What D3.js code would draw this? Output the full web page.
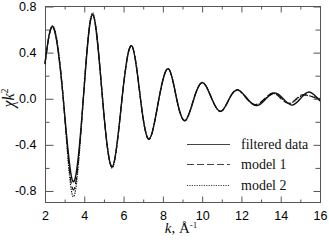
<!DOCTYPE html>
<html>
<head>
<meta charset="utf-8">
<script src="https://cdn.jsdelivr.net/npm/d3@7"></script>
<style>
  body { margin: 0; background: #fff; }
  .tick text { font-family: "Liberation Sans", Arial, sans-serif; font-size: 12.5px; fill: #000; }
  .axis path, .axis line { stroke: #555; }
  .legend text { font-family: "Liberation Serif", "Times New Roman", serif; font-size: 14px; fill: #111; }
</style>
</head>
<body>
<div id="chart"></div>
<script>
// k values and chi*k^2 for the three curves
const kFiltered = [2.0, 2.42, 2.93, 3.44, 3.95, 4.43, 4.93, 5.43, 5.92, 6.41, 6.86, 7.31, 7.8, 8.28, 8.7, 9.13, 9.58, 10.03, 10.49, 10.95, 11.38, 11.82, 12.3, 12.78, 13.25, 13.71, 14.13, 14.56, 15.0, 15.46, 16.0];
const chiFiltered = [0.31, 0.62, 0.0, -0.72, 0.0, 0.73, 0.0, -0.59, 0.0, 0.46, 0.0, -0.35, 0.0, 0.26, 0.0, -0.19, 0.0, 0.14, 0.0, -0.11, 0.0, 0.075, 0.0, -0.06, 0.0, 0.05, 0.0, -0.055, 0.0, 0.058, -0.02];

const kModel1 = [2.0, 2.42, 2.93, 3.44, 3.95, 4.43, 4.93, 5.43, 5.92, 6.41, 6.86, 7.31, 7.8, 8.28, 8.7, 9.13, 9.58, 10.03, 10.49, 10.95, 11.38, 11.8, 12.27, 12.72, 13.18, 13.62, 14.02, 14.42, 14.8, 15.2, 16.0];
const chiModel1 = [0.30, 0.62, 0.0, -0.79, 0.0, 0.73, 0.0, -0.59, 0.0, 0.46, 0.0, -0.35, 0.0, 0.26, 0.0, -0.19, 0.0, 0.14, 0.0, -0.11, 0.0, 0.08, 0.0, -0.05, 0.0, 0.05, 0.0, -0.04, 0.0, 0.035, -0.01];

const kModel2 = [2.0, 2.42, 2.93, 3.44, 3.95, 4.43, 4.93, 5.43, 5.92, 6.41, 6.86, 7.31, 7.8, 8.28, 8.7, 9.13, 9.58, 10.03, 10.49, 10.95, 11.38, 11.8, 12.28, 12.75, 13.2, 13.65, 14.05, 14.45, 14.85, 15.25, 16.0];
const chiModel2 = [0.30, 0.63, 0.0, -0.85, 0.0, 0.745, 0.0, -0.60, 0.0, 0.46, 0.0, -0.35, 0.0, 0.26, 0.0, -0.19, 0.0, 0.14, 0.0, -0.11, 0.0, 0.075, 0.0, -0.055, 0.0, 0.045, 0.0, -0.04, 0.0, 0.03, 0.0];

const xMajor = [2, 4, 6, 8, 10, 12, 14, 16];
const xMinor = [3, 5, 7, 9, 11, 13, 15];
const yMajor = [0.8, 0.4, 0.0, -0.4, -0.8];
const yMinor = [0.6, 0.2, -0.2, -0.6];

const legendLabels = ["filtered data", "model 1", "model 2"];

const W = 329, H = 242;
const svg = d3.select("#chart").append("svg").attr("width", W).attr("height", H);

const x = d3.scaleLinear().domain([2, 16]).range([45, 320]);
const y = d3.scaleLinear().domain([-0.9, 0.8]).range([202.5, 6.5]);

const fmt = d => d.toFixed(1);

// frame
svg.append("rect")
  .attr("x", 45.5).attr("y", 6.5)
  .attr("width", 275).attr("height", 196)
  .attr("fill", "none").attr("stroke", "#555");

// bottom axis
svg.append("g").attr("class", "axis").attr("transform", "translate(0,202.5)")
  .call(d3.axisBottom(x).tickValues(xMajor).tickSize(-6).tickPadding(9).tickFormat(d => d))
  .call(g => g.select(".domain").remove());
svg.append("g").attr("class", "axis").attr("transform", "translate(0,202.5)")
  .call(d3.axisBottom(x).tickValues(xMinor).tickSize(-3).tickFormat(""))
  .call(g => g.select(".domain").remove());

// top axis
svg.append("g").attr("class", "axis").attr("transform", "translate(0,6.5)")
  .call(d3.axisTop(x).tickValues(xMajor).tickSize(-6).tickFormat(""))
  .call(g => g.select(".domain").remove());
svg.append("g").attr("class", "axis").attr("transform", "translate(0,6.5)")
  .call(d3.axisTop(x).tickValues(xMinor).tickSize(-3).tickFormat(""))
  .call(g => g.select(".domain").remove());

// left axis
svg.append("g").attr("class", "axis").attr("transform", "translate(45.5,0)")
  .call(d3.axisLeft(y).tickValues(yMajor).tickSize(-8).tickPadding(9).tickFormat(fmt))
  .call(g => g.select(".domain").remove());
svg.append("g").attr("class", "axis").attr("transform", "translate(45.5,0)")
  .call(d3.axisLeft(y).tickValues(yMinor).tickSize(-4).tickFormat(""))
  .call(g => g.select(".domain").remove());

// right axis
svg.append("g").attr("class", "axis").attr("transform", "translate(320.5,0)")
  .call(d3.axisRight(y).tickValues(yMajor).tickSize(-7).tickFormat(""))
  .call(g => g.select(".domain").remove());
svg.append("g").attr("class", "axis").attr("transform", "translate(320.5,0)")
  .call(d3.axisRight(y).tickValues(yMinor).tickSize(-5).tickFormat(""))
  .call(g => g.select(".domain").remove());

// curves
const line = d3.line().x(d => x(d[0])).y(d => y(d[1])).curve(d3.curveNatural);
const series = [
  { k: kFiltered, v: chiFiltered, dash: null, w: 1.4 },
  { k: kModel1, v: chiModel1, dash: "7,3", w: 1.2 },
  { k: kModel2, v: chiModel2, dash: "1.2,1.2", w: 1.2 }
];

const plot = svg.append("g");
series.slice().reverse().forEach(s => {
  plot.append("path")
    .datum(d3.zip(s.k, s.v))
    .attr("d", line)
    .attr("fill", "none")
    .attr("stroke", "#111")
    .attr("stroke-width", s.w)
    .attr("stroke-dasharray", s.dash);
});

// legend
const legend = svg.append("g").attr("class", "legend");
const rowY = [144.5, 164.5, 185.5];
legendLabels.forEach((lab, i) => {
  legend.append("line")
    .attr("x1", 187).attr("x2", 230)
    .attr("y1", rowY[i]).attr("y2", rowY[i])
    .attr("stroke", "#444")
    .attr("stroke-width", 1.1)
    .attr("stroke-dasharray", series[i].dash);
  legend.append("text")
    .attr("x", 241).attr("y", rowY[i] + 4.5)
    .text(lab);
});

// axis titles
const yt = svg.append("text")
  .attr("transform", "translate(14,98) rotate(-90)")
  .attr("text-anchor", "middle")
  .attr("font-family", "Liberation Serif, Times New Roman, serif")
  .attr("font-size", 16)
  .attr("fill", "#111");
yt.append("tspan").attr("font-style", "italic").text("χk");
yt.append("tspan").attr("font-size", 10).attr("dy", -6).text("2");

const xt = svg.append("text")
  .attr("x", 181).attr("y", 233)
  .attr("text-anchor", "middle")
  .attr("font-family", "Liberation Serif, Times New Roman, serif")
  .attr("font-size", 15)
  .attr("fill", "#111");
xt.append("tspan").attr("font-style", "italic").text("k");
xt.append("tspan").text(", Å");
xt.append("tspan").attr("font-size", 9).attr("dy", -5).text("-1");
</script>
</body>
</html>
